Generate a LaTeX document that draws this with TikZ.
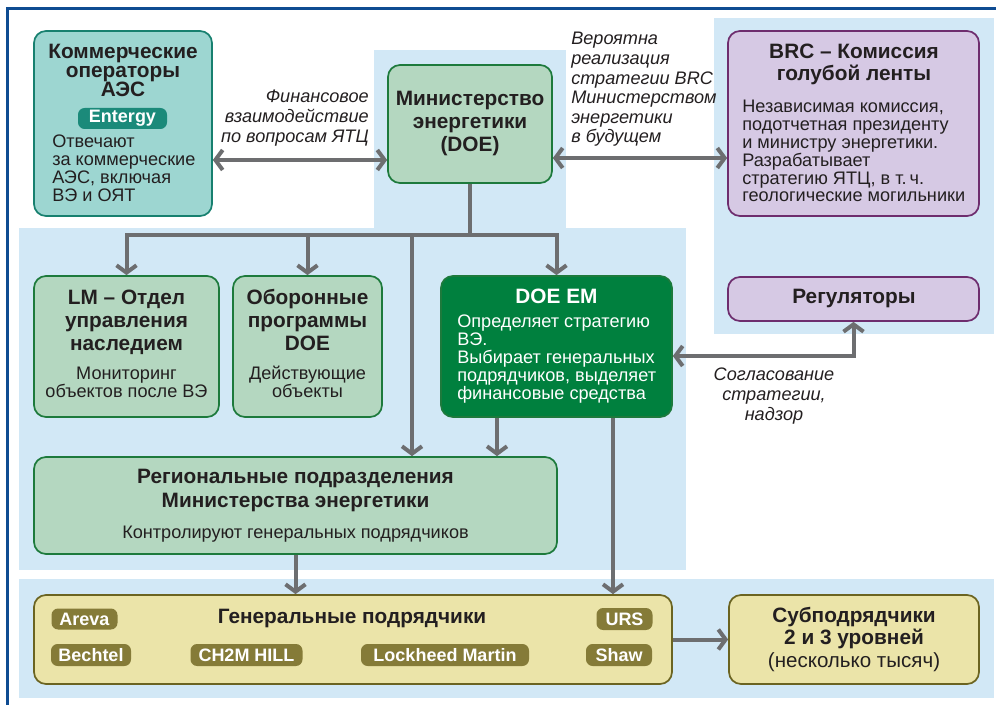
\documentclass[tikz,border=0pt]{standalone}
\usepackage{fontspec}
\setmainfont{Liberation Sans}
\usetikzlibrary{positioning,calc,arrows.meta}
\definecolor{ycBgBlue}{HTML}{D2E8F6}
\definecolor{ycFrame}{HTML}{0E4C92}
\definecolor{ycTealBg}{HTML}{9DD6D1}
\definecolor{ycTealLine}{HTML}{17806F}
\definecolor{ycTealTag}{HTML}{1B8A7A}
\definecolor{ycGreenBg}{HTML}{B4D7C0}
\definecolor{ycGreenLine}{HTML}{1D7A3C}
\definecolor{ycGreenDark}{HTML}{00803E}
\definecolor{ycPurpleBg}{HTML}{D6C9E4}
\definecolor{ycPurpleLine}{HTML}{6E2D6E}
\definecolor{ycOliveBg}{HTML}{EBE4A9}
\definecolor{ycOliveLine}{HTML}{6B6421}
\definecolor{ycOliveTag}{HTML}{857B38}
\definecolor{ycGreyLine}{HTML}{6D6E70}
\definecolor{ycText}{HTML}{231F20}
\tikzset{
  org box/.style={
    rectangle, rounded corners=9pt,
    line width=1.3pt,
    inner sep=0pt,
  },
  px size/.style 2 args={minimum width={(#1)*0.75pt}, minimum height={(#2)*0.75pt}},
  tag box/.style={
    rectangle, rounded corners=5pt, inner sep=0pt,
    text=white, font=\fontsize{13.5}{15}\selectfont\bfseries,
  },
  head text/.style={align=center, text=ycText, inner sep=0pt},
  body text/.style={text=ycText, inner sep=0pt},
  note text/.style={text=ycText, inner sep=0pt},
  link/.style={draw=ycGreyLine, line width=3pt, >={Straight Barb[length=5.5pt,width=15pt]}},
}
\newcommand{\headfont}[1]{\fontsize{15.6}{#1}\selectfont\bfseries}
\newcommand{\bodyfont}[1]{\fontsize{13.6}{#1}\selectfont}
\newcommand{\notefont}[1]{\fontsize{13.6}{#1}\selectfont\itshape}

\begin{document}
\begin{tikzpicture}[x=0.75pt, y=-0.75pt]
\useasboundingbox (0,0) rectangle (996,705);

%% background panels
\fill[ycBgBlue] (374,50) rectangle (566,232);
\fill[ycBgBlue] (19,228) rectangle (686,570);
\fill[ycBgBlue] (714,18) rectangle (994,334);
\fill[ycBgBlue] (19,579) rectangle (994,698);
\draw[ycFrame, line width=2.2pt] (7.5,705) -- (7.5,8.5) -- (996,8.5);

%% boxes
\node[org box, fill=ycTealBg, draw=ycTealLine, px size={178}{185}] (comm) at (123,123.5) {};
\node[org box, fill=ycGreenBg, draw=ycGreenLine, px size={164}{118}] (doe) at (470,124) {};
\node[org box, fill=ycPurpleBg, draw=ycPurpleLine, px size={251}{185}] (brc) at (853.5,123.5) {};
\node[org box, fill=ycPurpleBg, draw=ycPurpleLine, px size={251}{44}] (reg) at (853.5,299) {};
\node[org box, fill=ycGreenBg, draw=ycGreenLine, px size={185}{141}] (lm) at (126.5,346.5) {};
\node[org box, fill=ycGreenBg, draw=ycGreenLine, px size={149}{141}] (def) at (307.5,346.5) {};
\node[org box, fill=ycGreenDark, draw=ycGreenLine, px size={231}{141}] (em) at (556.5,346.5) {};
\node[org box, fill=ycGreenBg, draw=ycGreenLine, px size={523}{97}] (regio) at (295.5,505.5) {};
\node[org box, fill=ycOliveBg, draw=ycOliveLine, px size={638}{89}] (gen) at (353,639.5) {};
\node[org box, fill=ycOliveBg, draw=ycOliveLine, px size={250}{89}] (sub) at (854,639.5) {};

%% texts in the boxes (base = baseline of the last line)
\node[head text, anchor=base, font=\headfont{14.6pt}] (commhead) at (123,97)
  {Коммерческие\\операторы\\АЭС};
\node[tag box, fill=ycTealTag, px size={89}{21}] (entergy) at (122.5,118.5) {Entergy};
\node[body text, align=left, anchor=base west, font=\bodyfont{13.5pt}] (commbody) at (52,202)
  {Отвечают\\за коммерческие\\АЭС, включая\\ВЭ и ОЯТ};

\node[head text, anchor=base, font=\headfont{17.25pt}] (doehead) at (470,152)
  {Министерство\\энергетики\\(DOE)};

\node[head text, anchor=base, font=\headfont{16.5pt}] (brchead) at (854,81)
  {BRC – Комиссия\\голубой ленты};
\node[body text, align=left, anchor=base west, font=\bodyfont{13.35pt}] (brcbody) at (742,202)
  {Независимая комиссия,\\подотчетная президенту\\и министру энергетики.\\Разрабатывает\\стратегию ЯТЦ, в т.\,ч.\\геологические могильники};

\node[head text, anchor=base, font=\headfont{16pt}] (reghead) at (854,304) {Регуляторы};

\node[head text, anchor=base, font=\headfont{17.25pt}] (lmhead) at (126.5,351)
  {LM – Отдел\\управления\\наследием};
\node[body text, align=center, anchor=base, font=\bodyfont{13.5pt}] (lmbody) at (126.5,398)
  {Мониторинг\\объектов после ВЭ};

\node[head text, anchor=base, font=\headfont{17.25pt}] (defhead) at (307.5,351)
  {Оборонные\\программы\\DOE};
\node[body text, align=center, anchor=base, font=\bodyfont{13.5pt}] (defbody) at (307.5,398)
  {Действующие\\объекты};

\node[head text, anchor=base, text=white, font=\headfont{16pt}] (emhead) at (556.5,304) {DOE EM};
\node[body text, align=left, anchor=base west, text=white, font=\bodyfont{13.5pt}] (embody) at (457,400)
  {Определяет стратегию\\ВЭ.\\Выбирает генеральных\\подрядчиков, выделяет\\финансовые средства};

\node[head text, anchor=base, font=\headfont{18pt}] (regiohead) at (295.5,508)
  {Региональные подразделения\\Министерства энергетики};
\node[body text, anchor=base, font=\bodyfont{13.5pt}] (regiobody) at (295.5,538)
  {Контролируют генеральных подрядчиков};

\node[head text, anchor=base, font=\headfont{16pt}] (genhead) at (352,623) {Генеральные подрядчики};
\node[tag box, fill=ycOliveTag, px size={66}{21}] (areva) at (84.5,619) {Areva};
\node[tag box, fill=ycOliveTag, px size={56}{22}] (urs) at (624.5,619) {URS};
\node[tag box, fill=ycOliveTag, px size={80}{22}] (bechtel) at (91,655) {Bechtel};
\node[tag box, fill=ycOliveTag, px size={112}{22}] (chhill) at (246.5,655) {CH2M HILL};
\node[tag box, fill=ycOliveTag, px size={168}{22}] (lockheed) at (445,655) {Lockheed Martin};
\node[tag box, fill=ycOliveTag, px size={66}{22}] (shaw) at (619,655) {Shaw};

\node[head text, anchor=base, font=\headfont{16.5pt}] (subhead) at (854,644)
  {Субподрядчики\\2 и 3 уровней};
\node[body text, anchor=base, font=\fontsize{15.4}{17}\selectfont] (subbody) at (854,667) {(несколько тысяч)};

%% notes on the links
\node[note text, align=right, anchor=base east, font=\notefont{15pt}] (finnote) at (369,143)
  {Финансовое\\взаимодействие\\по вопросам ЯТЦ};
\node[note text, align=left, anchor=base west, font=\notefont{14.7pt}] (brcnote) at (571,143)
  {Вероятна\\реализация\\стратегии BRC\\Министерством\\энергетики\\в будущем};
\node[note text, align=center, anchor=base, font=\notefont{15pt}] (agreenote) at (774,421)
  {Согласование\\стратегии,\\надзор};

%% links
\coordinate (finlvl) at (0,160);
\coordinate (brclvl) at (0,158);
\coordinate (fork) at (470,235);
\coordinate (regdrop) at (412,235);
\coordinate (emleft) at (497,0);
\coordinate (emright) at (613,0);
\coordinate (agreelvl) at (0,356);

\draw[link, <->] (comm.east |- finlvl) -- (doe.west |- finlvl);
\draw[link, <->] (doe.east |- brclvl) -- (brc.west |- brclvl);
\draw[link] (doe.south) -- (fork);
\draw[link, <->] (lm.north) |- (fork -| em.north) -- (em.north);
\draw[link, ->] (def.north |- fork) -- (def.north);
\draw[link, ->] (regdrop) -- (regdrop |- regio.north);
\draw[link, ->] (em.south -| emleft) -- (regio.north -| emleft);
\draw[link, ->] (em.south -| emright) -- (gen.north -| emright);
\draw[link, ->] (regio.south) -- (regio.south |- gen.north);
\draw[link, <->] (reg.south) |- (em.east |- agreelvl);
\draw[link, ->] (gen.east) -- (sub.west);

\end{tikzpicture}
\end{document}
